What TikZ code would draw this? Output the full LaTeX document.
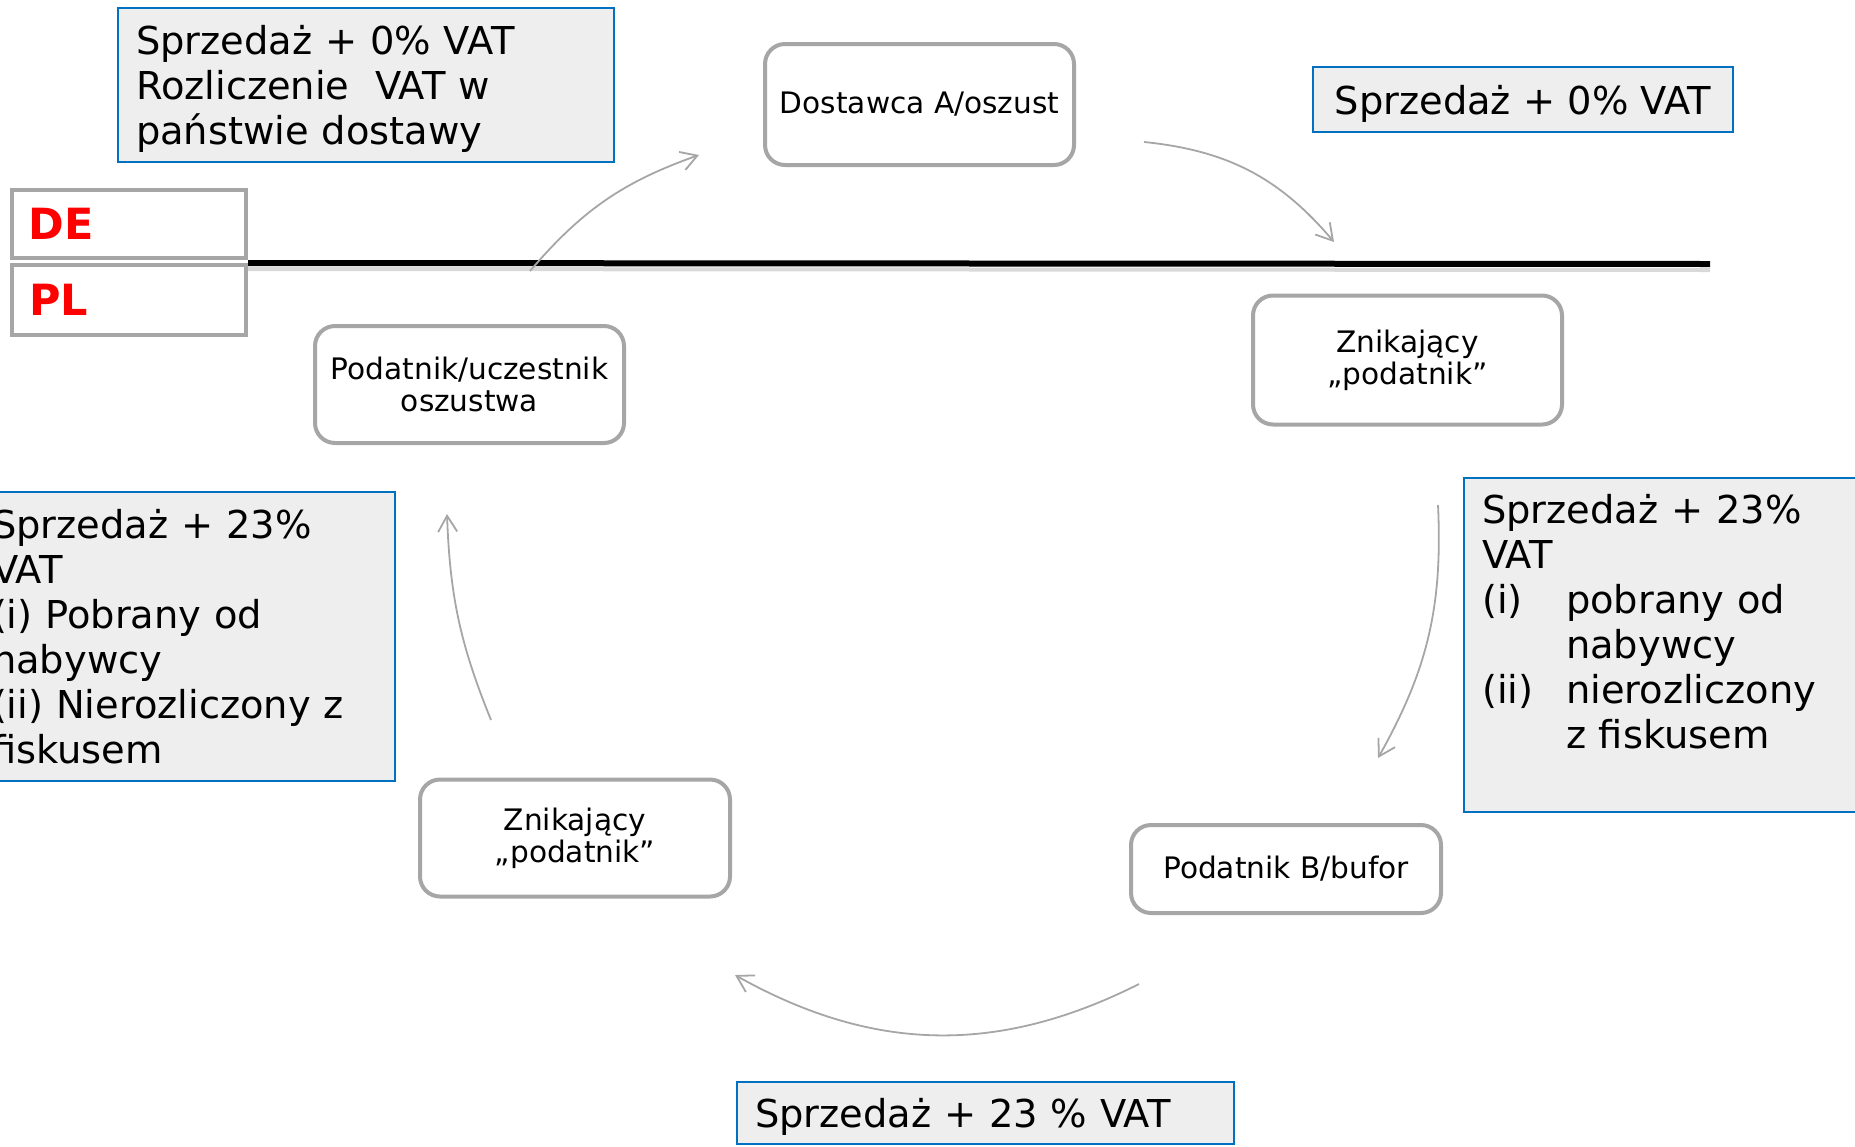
\documentclass[tikz,border=0pt]{standalone}
\usepackage{fontspec}
\setmainfont{DejaVu Sans}
\usetikzlibrary{calc, positioning, arrows.meta}

\definecolor{ramka}{HTML}{0070C0}
\definecolor{tlo}{HTML}{EEEEEE}
\definecolor{szary}{HTML}{A6A6A6}

\begin{document}
\begin{tikzpicture}[x=0.5pt, y=-0.5pt,
  krok/.style={draw=szary, line width=2pt, rounded corners=10pt, fill=white, align=center, inner sep=2pt, font=\fontsize{14.8}{16}\selectfont},
  opis/.style={draw=ramka, line width=1pt, fill=tlo, align=left, inner xsep=9pt, inner ysep=4pt, font=\fontsize{19.2}{22.5}\selectfont},
  kraj/.style={draw=szary, line width=2pt, text=red, align=left, inner xsep=8.5pt, text width=100pt, font=\fontsize{21.5}{24}\bfseries\selectfont},
  strz/.style={->, >={Straight Barb[length=8pt, width=9.5pt]}, draw=szary, line width=0.9pt}]
  \useasboundingbox (0,0) rectangle (1855,1146);

  % kraje
  \node[kraj, minimum height = 34pt] (de) at (128.5,224) {DE};
  \node[kraj, minimum height = 35pt] (pl) at (129,300) {PL};
  \coordinate (granicaP) at (1710,264);
  \draw[line width = 2pt, black!15] ($(pl.north east)+(0,6)$) -- ($(granicaP)+(0,6)$);
  \draw[line width = 3pt] (pl.north east) -- (granicaP);

  % podmioty
  \node[krok, minimum width = 154.5pt, minimum height = 60.5pt] (dostawca) at (919.5,104.5) {Dostawca A/oszust};
  \node[krok, minimum width = 154.5pt, minimum height = 64.5pt] (znik1) at (1407.5,360) {Znikający\\„podatnik”};
  \node[krok, minimum width = 155pt, minimum height = 44pt] (bufor) at (1286,869) {Podatnik B/bufor};
  \node[krok, minimum width = 155pt, minimum height = 58.5pt] (znik2) at (575,838) {Znikający\\„podatnik”};
  \node[krok, minimum width = 154.5pt, minimum height = 58.5pt] (uczestnik) at (469.5,384.5) {Podatnik/uczestnik\\oszustwa};

  % opisy
  \node[opis, text width = 230pt, minimum height = 77pt, text height = 17pt, text depth = 47pt] (opisDE) at (366,84.5) {Sprzedaż + 0\% VAT\\Rozliczenie\ \ VAT w\\państwie dostawy};
  \node[opis, minimum width = 210pt, minimum height = 32.5pt, text height = 17.5pt, text depth = 2.5pt] (opisA) at (1523,99.5) {Sprzedaż + 0\% VAT};
  \node[opis, anchor = north west, text width = 190pt, inner ysep = 9pt, text height = 13.8pt, text depth = 135.2pt] (opisZ1) at (1463,477) {Sprzedaż + 23\%\\VAT\\\makebox[42pt][l]{(i)}pobrany od\\\hspace*{42pt}nabywcy\\\makebox[42pt][l]{(ii)}nierozliczony\\\hspace*{42pt}z fiskusem};
  \node[opis, text width = 230.5pt, minimum height = 31pt, text height = 17pt, text depth = 3pt] (opisB) at (985.5,1113) {Sprzedaż + 23 \% VAT};
  \node[opis, text width = 192.5pt, minimum height = 144.5pt] (opisZ2) at (184.5,636.5) {Sprzedaż + 23\%\\VAT\\(i) Pobrany od\\nabywcy\\(ii) Nierozliczony z\\fiskusem};

  % przeplyw
  \coordinate (a1s) at (530,271);
  \coordinate (a1e) at (699,155);
  \coordinate (a2s) at (1144,142);
  \coordinate (a2e) at (1334,242);
  \coordinate (a3s) at (1438,505);
  \coordinate (a3e) at (1378,758);
  \coordinate (a4s) at (1139,984);
  \coordinate (a4e) at (735,975);
  \coordinate (a5s) at (491,720);
  \coordinate (a5e) at (447,514);
  \draw[strz] (a1s) to[bend left=15] (a1e);
  \draw[strz] (a2s) to[bend left=22] (a2e);
  \draw[strz] (a3s) to[bend left=16] (a3e);
  \draw[strz] (a4s) to[bend left=28] (a4e);
  \draw[strz] (a5s) to[bend left=10] (a5e);
\end{tikzpicture}
\end{document}
